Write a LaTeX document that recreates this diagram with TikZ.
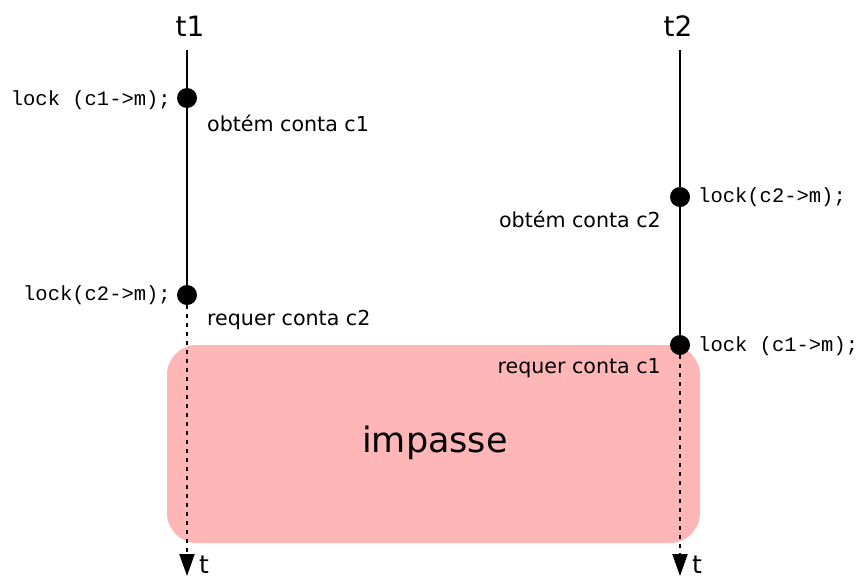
\documentclass[tikz,border=0pt]{standalone}
\usepackage{fontspec}
\setmainfont{DejaVu Sans}
\newfontfamily\codefont{Liberation Mono}
\usetikzlibrary{arrows.meta}
\definecolor{pinkbox}{RGB}{255,182,182}
\begin{document}
\begin{tikzpicture}[x=1pt,y=-1pt,
 dotn/.style={circle,fill=black,inner sep=0pt,minimum size=20pt},
 lbl/.style={font=\fontsize{20.6}{24}\selectfont, inner sep=0pt},
 tlbl/.style={font=\fontsize{28}{32}\selectfont, inner sep=0pt},
 endlbl/.style={font=\fontsize{25}{30}\selectfont, inner sep=0pt},
 code/.style={font=\codefont\fontsize{20.5}{24}\selectfont, inner sep=0pt},
 solidline/.style={line width=2pt},
 dotline/.style={line width=2pt, dash pattern=on 4pt off 5pt, -{Triangle[length=22pt,width=15pt]}},
]
\useasboundingbox (0,0) rectangle (858,581);
% deadlock box
\node[fill=pinkbox, rounded corners=30pt, minimum width=533pt, minimum height=198pt, inner sep=0pt] (box) at (433.5,444) {};
\node[font=\fontsize{35}{40}\selectfont, inner sep=0pt] (imp) at (435,443) {impasse};
% thread 1
\node[tlbl, anchor=base] (t1) at (190,36) {t1};
\coordinate (t1top) at (187,50);
\node[dotn] (a1) at (187,98) {};
\node[dotn] (a2) at (187,295) {};
\coordinate (t1end) at (187,576);
\draw[solidline] (t1top) -- (a1) -- (a2);
\draw[dotline] (a2) -- (t1end);
\node[endlbl, anchor=base west] (t1t) at (199,573) {t};
% thread 2
\node[tlbl, anchor=base] (t2) at (678,36) {t2};
\coordinate (t2top) at (680,50);
\node[dotn] (b1) at (680,197) {};
\node[dotn] (b2) at (680,345) {};
\coordinate (t2end) at (680,576);
\draw[solidline] (t2top) -- (b1) -- (b2);
\draw[dotline] (b2) -- (t2end);
\node[endlbl, anchor=base west] (t2t) at (692,573) {t};
% labels
\node[code, anchor=east] (l1) at (171,100) {lock (c1->m);};
\node[lbl, anchor=west] (o1) at (207,123) {obtém conta c1};
\node[code, anchor=west] (l2) at (698,197) {lock(c2->m);};
\node[lbl, anchor=east] (o2) at (661,219) {obtém conta c2};
\node[code, anchor=east] (l3) at (171,295) {lock(c2->m);};
\node[lbl, anchor=west] (r1) at (207,320) {requer conta c2};
\node[code, anchor=west] (l4) at (698,346) {lock (c1->m);};
\node[lbl, anchor=east] (r2) at (661,368) {requer conta c1};
\end{tikzpicture}
\end{document}
